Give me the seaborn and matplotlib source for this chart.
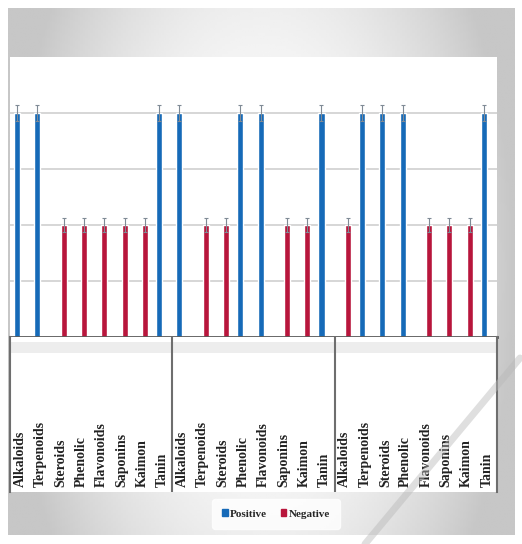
import numpy as np
import pandas as pd
import seaborn as sns
import matplotlib.pyplot as plt
from matplotlib.lines import Line2D
from matplotlib.patches import Rectangle

# ==========================================
# 1. DATA
# ==========================================
compounds = ['Alkaloids', 'Terpenoids', 'Steroids', 'Phenolic',
             'Flavonoids', 'Saponins', 'Kaimon', 'Tanin']
result_1 = ['Positive', 'Positive', 'Negative', 'Negative',
            'Negative', 'Negative', 'Negative', 'Positive']
result_2 = ['Positive', 'Negative', 'Negative', 'Positive',
            'Positive', 'Negative', 'Negative', 'Positive']
result_3 = ['Negative', 'Positive', 'Positive', 'Positive',
            'Negative', 'Negative', 'Negative', 'Positive']
score_values = {'Positive': 4.0, 'Negative': 2.0}
score_errors = {'Positive': 0.15, 'Negative': 0.12}
hue_order = ['Positive', 'Negative']
colors = {'Positive': '#166AB8', 'Negative': '#B8163C'}

rows = []
for g, results in enumerate([result_1, result_2, result_3]):
    for c, r in zip(compounds, results):
        rows.append({'slot': f'{g}-{c}', 'compound': c, 'result': r,
                     'value': score_values[r], 'err': score_errors[r]})
df = pd.DataFrame(rows)
slots = list(df['slot'])

# ==========================================
# 2. FIGURE + BACKGROUND
# ==========================================
sns.set_style('white')
plt.rcParams['font.family'] = ['Liberation Serif', 'DejaVu Serif']

W, H = 522, 544
fig = plt.figure(figsize=(W / 100, H / 100), dpi=100)

def fr(x0, y0, x1, y1):
    # pixel box (top-left origin) -> figure fraction rect
    return [x0 / W, 1 - y1 / H, (x1 - x0) / W, (y1 - y0) / H]

# gray frame with soft gradient
bg = fig.add_axes(fr(8, 8, 515, 535))
xx = np.linspace(-1, 1, 200)
yy = np.linspace(-1, 1, 200)
gx, gy = np.meshgrid(xx, yy)
grad = 1 - 0.22 * np.clip(gx ** 2 + 0.3 * gy ** 2, 0, 1)
bg.imshow(grad, cmap='gray', vmin=0, vmax=1, aspect='auto', extent=[0, 1, 0, 1])
bg.set_axis_off()

# ==========================================
# 3. BARS
# ==========================================
ax = fig.add_axes(fr(10, 57, 497, 337))
sns.barplot(data=df, x='slot', y='value', hue='result', order=slots,
            hue_order=hue_order, palette=colors, width=0.6, dodge=True,
            saturation=1, errorbar=None, legend=False, ax=ax)

for p in ax.patches:
    h = p.get_height()
    if h > 0:
        e = score_errors['Positive'] if h == score_values['Positive'] else score_errors['Negative']
        ax.errorbar(p.get_x() + p.get_width() / 2, h, yerr=e, fmt='none',
                    ecolor='#7f8a95', elinewidth=0.8, capsize=1.5, capthick=0.8)

ax.set_xlim(-0.5, len(slots) - 0.5)
ax.set_ylim(0, 5)
ax.set_yticks([1, 2, 3, 4])
ax.yaxis.grid(True, color='#d0d0d0', linewidth=1.2)
ax.set_axisbelow(True)
ax.tick_params(left=False, bottom=False, labelleft=False, labelbottom=False)
ax.set_xlabel('')
ax.set_ylabel('')
ax.set_facecolor('white')
for s in ['left', 'right', 'top']:
    ax.spines[s].set_visible(False)
ax.spines['bottom'].set_color('#595959')
ax.spines['bottom'].set_linewidth(2)

# ==========================================
# 4. CATEGORY LABEL BOX
# ==========================================
lab = fig.add_axes(fr(10, 337, 497, 492))
lab.set_xlim(ax.get_xlim())
lab.set_ylim(0, 1)
lab.set_facecolor('white')
lab.set_xticks([])
lab.set_yticks([])
for s in ['top', 'bottom']:
    lab.spines[s].set_visible(False)
for s in ['left', 'right']:
    lab.spines[s].set_color('#6e6e6e')
    lab.spines[s].set_linewidth(1.5)
lab.axhspan(0.9, 0.97, color='#ededed', lw=0)
for xb in [7.5, 15.5]:
    lab.axvline(xb, color='#6e6e6e', lw=1.5)
for i, c in enumerate(df['compound']):
    lab.text(i, 0.03, c, rotation=90, ha='center', va='bottom',
             fontsize=10, fontweight='bold', color='#222222')

# ==========================================
# 5. LEGEND + WATERMARK
# ==========================================
handles = [Rectangle((0, 0), 1, 1, color=colors[k]) for k in hue_order]
leg = fig.legend(handles, hue_order, loc='center', ncol=2,
                 bbox_to_anchor=(276 / W, 1 - 514 / H), frameon=True,
                 fontsize=8, handlelength=0.5, handleheight=0.5,
                 handletextpad=0.2, columnspacing=1.2, borderpad=0.9)
leg.get_frame().set_facecolor('white')
leg.get_frame().set_edgecolor('white')
for t in leg.get_texts():
    t.set_fontweight('bold')

fig.add_artist(Line2D([365 / W, 520 / W], [1 - 544 / H, 1 - 358 / H],
                      transform=fig.transFigure, color='#b8b8b8',
                      lw=5, alpha=0.45, zorder=20))

fig.savefig('out.png', dpi=100)
